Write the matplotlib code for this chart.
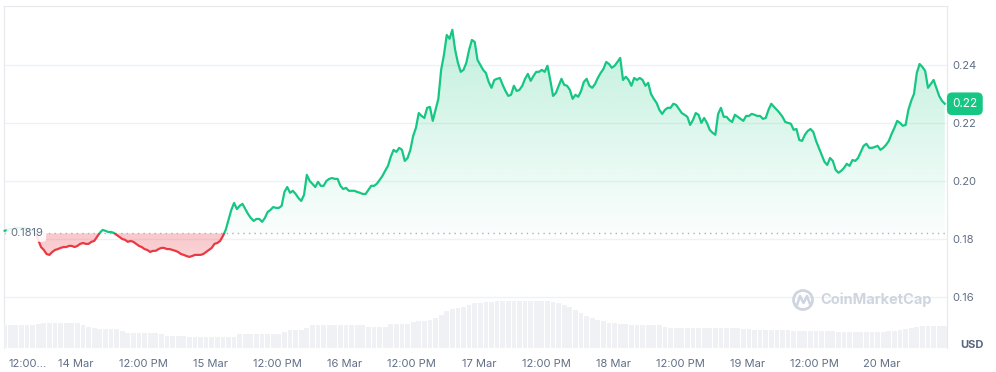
import numpy as np
import pandas as pd
import matplotlib
matplotlib.use("Agg")
import matplotlib.pyplot as plt
import matplotlib.dates as mdates
from matplotlib.patches import Rectangle, Ellipse
from matplotlib.lines import Line2D
from matplotlib.colors import to_rgba

plt.rcParams['font.family'] = ['Inter', 'DejaVu Sans']

# price every 30 min, 13 Mar 11:15 -> 20 Mar 11:15
start = '2024-03-13 11:15'
price = [
    0.1828, 0.1831, 0.1834, 0.1834, 0.1838, 0.1838, 0.1838, 0.1838, 0.1834, 0.1831,
    0.1828, 0.1821, 0.1797, 0.1772, 0.1762, 0.1748, 0.1745, 0.1755, 0.1762, 0.1765,
    0.1769, 0.1772, 0.1772, 0.1776, 0.1776, 0.1772, 0.1776, 0.1783, 0.1786, 0.1783,
    0.1783, 0.1790, 0.1793, 0.1807, 0.1821, 0.1831, 0.1828, 0.1824, 0.1824, 0.1821,
    0.1814, 0.1807, 0.1800, 0.1797, 0.1790, 0.1793, 0.1790, 0.1783, 0.1776, 0.1772,
    0.1765, 0.1762, 0.1755, 0.1759, 0.1759, 0.1765, 0.1769, 0.1769, 0.1765, 0.1765,
    0.1762, 0.1759, 0.1755, 0.1748, 0.1745, 0.1741, 0.1738, 0.1741, 0.1745, 0.1745,
    0.1745, 0.1748, 0.1755, 0.1762, 0.1769, 0.1783, 0.1786, 0.1793, 0.1810, 0.1831,
    0.1866, 0.1900, 0.1924, 0.1903, 0.1914, 0.1921, 0.1903, 0.1886, 0.1872, 0.1862,
    0.1869, 0.1869, 0.1859, 0.1872, 0.1893, 0.1900, 0.1910, 0.1907, 0.1907, 0.1914,
    0.1962, 0.1979, 0.1959, 0.1966, 0.1955, 0.1941, 0.1931, 0.1952, 0.2021, 0.2000,
    0.1990, 0.1979, 0.1997, 0.1983, 0.1983, 0.2000, 0.2007, 0.2010, 0.2007, 0.2007,
    0.1983, 0.1972, 0.1976, 0.1966, 0.1966, 0.1966, 0.1962, 0.1959, 0.1955, 0.1955,
    0.1969, 0.1983, 0.1983, 0.1990, 0.2003, 0.2017, 0.2035, 0.2052, 0.2083, 0.2107,
    0.2100, 0.2114, 0.2107, 0.2069, 0.2079, 0.2107, 0.2155, 0.2183, 0.2234, 0.2224,
    0.2217, 0.2252, 0.2255, 0.2207, 0.2245, 0.2283, 0.2383, 0.2434, 0.2503, 0.2490,
    0.2521, 0.2452, 0.2407, 0.2376, 0.2383, 0.2407, 0.2452, 0.2486, 0.2479, 0.2417,
    0.2400, 0.2383, 0.2372, 0.2341, 0.2321, 0.2348, 0.2352, 0.2355, 0.2331, 0.2310,
    0.2293, 0.2297, 0.2328, 0.2310, 0.2314, 0.2328, 0.2352, 0.2369, 0.2345, 0.2362,
    0.2376, 0.2376, 0.2383, 0.2376, 0.2397, 0.2348, 0.2293, 0.2303, 0.2328, 0.2352,
    0.2331, 0.2328, 0.2314, 0.2283, 0.2297, 0.2290, 0.2310, 0.2341, 0.2352, 0.2328,
    0.2321, 0.2334, 0.2355, 0.2372, 0.2386, 0.2410, 0.2403, 0.2390, 0.2397, 0.2410,
    0.2424, 0.2348, 0.2359, 0.2348, 0.2328, 0.2355, 0.2348, 0.2355, 0.2348, 0.2328,
    0.2338, 0.2300, 0.2283, 0.2269, 0.2245, 0.2231, 0.2245, 0.2252, 0.2252, 0.2266,
    0.2262, 0.2248, 0.2234, 0.2228, 0.2221, 0.2193, 0.2210, 0.2234, 0.2228, 0.2200,
    0.2217, 0.2200, 0.2176, 0.2166, 0.2159, 0.2231, 0.2252, 0.2221, 0.2221, 0.2210,
    0.2203, 0.2228, 0.2221, 0.2214, 0.2207, 0.2224, 0.2224, 0.2231, 0.2228, 0.2224,
    0.2224, 0.2214, 0.2217, 0.2245, 0.2266, 0.2255, 0.2245, 0.2234, 0.2221, 0.2203,
    0.2200, 0.2197, 0.2176, 0.2179, 0.2141, 0.2138, 0.2159, 0.2172, 0.2179, 0.2169,
    0.2138, 0.2114, 0.2090, 0.2066, 0.2055, 0.2079, 0.2069, 0.2038, 0.2028, 0.2035,
    0.2045, 0.2059, 0.2052, 0.2072, 0.2069, 0.2079, 0.2100, 0.2121, 0.2128, 0.2114,
    0.2114, 0.2117, 0.2121, 0.2107, 0.2114, 0.2124, 0.2138, 0.2162, 0.2183, 0.2207,
    0.2200, 0.2190, 0.2193, 0.2245, 0.2276, 0.2300, 0.2372, 0.2403, 0.2393, 0.2379,
    0.2321, 0.2334, 0.2348, 0.2321, 0.2293, 0.2276, 0.2266,
]
# hourly volume (M USD), same start
volume_m = [
    23, 23, 23, 23, 23, 23, 24, 25, 25, 25,
    25, 25, 25, 25, 23, 21, 20, 19, 19, 19,
    19, 17, 15, 15, 15, 15, 15, 15, 14, 12,
    12, 12, 12, 11, 11, 11, 11, 11, 11, 11,
    11, 11, 14, 14, 14, 14, 14, 14, 14, 14,
    16, 18, 18, 18, 20, 23, 23, 23, 23, 23,
    23, 23, 23, 23, 23, 21, 21, 21, 21, 24,
    24, 24, 24, 26, 27, 27, 28, 30, 33, 37,
    39, 40, 41, 43, 45, 45, 46, 46, 47, 47,
    47, 47, 47, 47, 47, 47, 47, 47, 46, 45,
    43, 41, 38, 35, 32, 30, 28, 27, 25, 25,
    24, 24, 23, 23, 23, 23, 23, 23, 21, 20,
    20, 20, 20, 20, 20, 20, 20, 20, 20, 20,
    20, 20, 19, 19, 18, 18, 18, 18, 18, 18,
    18, 17, 17, 17, 17, 17, 17, 17, 17, 16,
    16, 16, 16, 16, 16, 16, 16, 16, 17, 17,
    18, 19, 20, 21, 22, 22, 22, 22, 22,
]
base_price = 0.1819
price_ticks = [0.16, 0.18, 0.20, 0.22, 0.24]
date_ticks = ['2024-03-13 12:00', '2024-03-14 00:00', '2024-03-14 12:00', '2024-03-15 00:00',
              '2024-03-15 12:00', '2024-03-16 00:00', '2024-03-16 12:00', '2024-03-17 00:00',
              '2024-03-17 12:00', '2024-03-18 00:00', '2024-03-18 12:00', '2024-03-19 00:00',
              '2024-03-19 12:00', '2024-03-20 00:00']
date_labels = ['12:00...', '14 Mar', '12:00 PM', '15 Mar', '12:00 PM', '16 Mar',
               '12:00 PM', '17 Mar', '12:00 PM', '18 Mar', '12:00 PM', '19 Mar',
               '12:00 PM', '20 Mar']

green = '#16c784'
red = '#ea3943'
text_grey = '#616e85'

t = mdates.date2num(pd.date_range(start, periods=len(price), freq='30min').to_numpy())
tv = mdates.date2num(pd.date_range(start, periods=len(volume_m), freq='h').to_numpy())
p = np.array(price)

fig = plt.figure(figsize=(9.96, 3.72), dpi=100)
ax = fig.add_axes([0.00402, 0.06452, 0.94679, 0.91935])

# green area above the open price, red area below
up = ax.fill_between(t, np.maximum(p, base_price), base_price, facecolor='none', edgecolor='none')
dn = ax.fill_between(t, np.minimum(p, base_price), base_price, facecolor='none', edgecolor='none')

g_grad = np.zeros((256, 1, 4))
g_grad[..., :3] = to_rgba(green)[:3]
g_grad[:, 0, 3] = np.linspace(0.27, 0.02, 256)
im = ax.imshow(g_grad, extent=[t[0], t[-1], base_price, p.max()], aspect='auto',
               origin='upper', zorder=1, interpolation='bilinear')
im.set_clip_path(up.get_paths()[0], transform=ax.transData)

r_grad = np.zeros((256, 1, 4))
r_grad[..., :3] = to_rgba(red)[:3]
r_grad[:, 0, 3] = np.linspace(0.28, 0.22, 256)
im2 = ax.imshow(r_grad, extent=[t[0], t[-1], p.min(), base_price], aspect='auto',
                origin='upper', zorder=1, interpolation='bilinear')
im2.set_clip_path(dn.get_paths()[0], transform=ax.transData)

g_line, = ax.plot(t, p, color=green, lw=1.6, zorder=3, solid_joinstyle='round')
r_line, = ax.plot(t, p, color=red, lw=1.6, zorder=3, solid_joinstyle='round')
g_line.set_clip_path(Rectangle((t[0] - 2, base_price), 20, 1, transform=ax.transData))
r_line.set_clip_path(Rectangle((t[0] - 2, base_price - 1), 20, 1, transform=ax.transData))

ax.axhline(base_price, color='#a6b0c3', lw=1, ls=(0, (1, 3)), zorder=2)
ax.text(6 / 943, base_price, '0.1819', transform=ax.get_yaxis_transform(),
        ha='left', va='center', fontsize=8, color=text_grey, zorder=5,
        bbox=dict(boxstyle='round,pad=0.3', fc='white', ec='none', alpha=0.88))

ax.set_xlim(mdates.date2num(pd.Timestamp('2024-03-13 11:08')),
            mdates.date2num(pd.Timestamp('2024-03-20 11:39')))
ax.set_ylim(0.1424, 0.2603)

# volume strip along the bottom
vax = ax.twinx()
vax.bar(tv, volume_m, width=0.85 / 24, color='#eff1f4', linewidth=0, zorder=0)
vax.set_ylim(0, max(volume_m) * 7.3)
vax.axis('off')

ax.yaxis.tick_right()
ax.set_yticks(price_ticks)
ax.set_yticklabels([f'{v:.2f}' for v in price_ticks])
ax.set_xticks(mdates.date2num(pd.to_datetime(date_ticks).to_numpy()))
ax.set_xticklabels(date_labels)
ax.get_xticklabels()[0].set_horizontalalignment('left')
ax.tick_params(axis='both', length=0, labelsize=8, colors=text_grey)
ax.tick_params(axis='y', pad=4)
ax.tick_params(axis='x', pad=8)
ax.grid(axis='y', color='#eff2f5', lw=1)
ax.set_axisbelow(True)
for side in ['top', 'left', 'right']:
    ax.spines[side].set_color('#e6e8ec')
ax.spines['bottom'].set_visible(False)

# current price tag
ax.text(1.0055, p[-1], '0.22', transform=ax.get_yaxis_transform(), ha='left', va='center',
        fontsize=8.5, color='white', clip_on=False, zorder=6,
        bbox=dict(boxstyle='round,pad=0.45', fc=green, ec='none'))

fig.text(960 / 996, 1 - 345 / 372, 'USD', fontsize=8, weight='bold', color='#58667e', va='center')

# watermark
wm = '#cfd5e0'
fig.add_artist(Ellipse((803 / 996, 1 - 300 / 372), 19 / 996, 19 / 372, fill=False, ec=wm, lw=2))
wx = np.array([797, 800, 803.5, 807, 810]) / 996
wy = 1 - np.array([305, 296, 303, 296, 304]) / 372
fig.add_artist(Line2D(wx, wy, color=wm, lw=1.8, transform=fig.transFigure))
fig.text(820 / 996, 1 - 300 / 372, 'CoinMarketCap', fontsize=10.5, weight='bold', color=wm, va='center')

fig.savefig('out.png', dpi=100)
